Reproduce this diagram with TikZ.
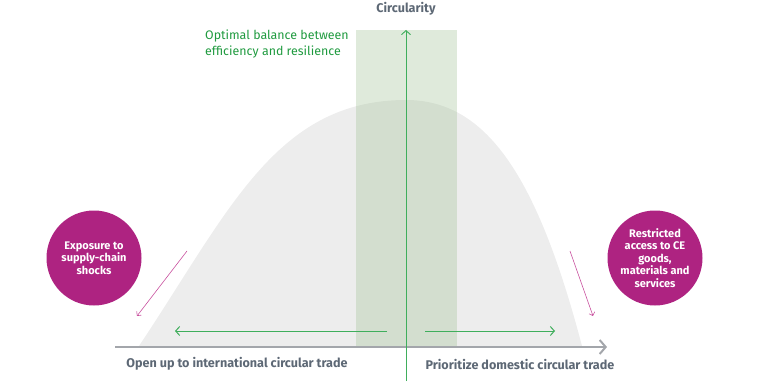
\documentclass[tikz,border=0pt]{standalone}
\usepackage{fontspec}
\setmainfont{Fira Sans}
\usetikzlibrary{arrows.meta}

\definecolor{bellgray}{HTML}{EDEDED}
\definecolor{bandgreen}{RGB}{159,192,147}
\definecolor{linegreen}{HTML}{3FAE5C}
\definecolor{textgreen}{HTML}{1F9A3F}
\definecolor{axisgray}{HTML}{A3A6AB}
\definecolor{labelgray}{HTML}{5D6875}
\definecolor{riskpink}{HTML}{AE2381}
\definecolor{arrowpink}{HTML}{C8509E}

\tikzset{
  risk/.style={circle, fill=riskpink, text=white, minimum size=95pt, inner sep=0pt,
    align=center, font=\fontsize{11}{12.5}\selectfont\bfseries},
  axislabel/.style={text=labelgray, font=\fontsize{12.6}{14}\selectfont\bfseries},
  hint/.style={->, arrowpink, line width=0.6pt},
  trend/.style={->, linegreen, line width=1pt}
}

\begin{document}
\begin{tikzpicture}[x=1pt,y=1pt,>={Straight Barb[length=4pt,width=9pt]}]

  \useasboundingbox (0,0) rectangle (764,381);

  % -------------------------
  % Bell curve and optimal band
  % -------------------------
  \fill[bellgray] (139,35) .. controls (229,170) and (276,281) .. (406,281)
    .. controls (486,281) and (537,206) .. (582,35) -- cycle;

  \fill[bandgreen, opacity=0.33] (356,34) rectangle (457,351);

  % -------------------------
  % Axes
  % -------------------------
  \coordinate (hstart) at (115,34);
  \coordinate (hend) at (607,34);
  \coordinate (vstart) at (406,0);
  \coordinate (vend) at (406,351);

  \draw[->, axisgray, line width=2pt, >={Straight Barb[length=6pt,width=14pt]}]
    (hstart) -- (hend);
  \draw[->, linegreen, line width=0.9pt] (vstart) -- (vend);

  \node[axislabel] (ylab) at (406,372) {Circularity};
  \node[axislabel] (leftlab) at (237,17) {Open up to international circular trade};
  \node[axislabel, anchor=west] (rightlab) at (422,17) {Prioritize domestic circular trade};

  \node[anchor=north west, align=left, text=textgreen, inner sep=0pt,
    font=\fontsize{12.4}{16}\selectfont] (optlab) at (205,351)
    {Optimal balance between\\efficiency and resilience};

  % -------------------------
  % Green trend arrows
  % -------------------------
  \coordinate (lgfrom) at (387,50);
  \coordinate (lgto) at (175,50);
  \coordinate (rgfrom) at (425,50);
  \coordinate (rgto) at (555,50);

  \draw[trend] (lgfrom) -- (lgto);
  \draw[trend] (rgfrom) -- (rgto);

  % -------------------------
  % Risks at both ends
  % -------------------------
  \node[risk] (shocks) at (94,123) {Exposure to\\supply-chain\\shocks};
  \node[risk] (access) at (655,123) {Restricted\\access to CE\\goods,\\materials and\\services};

  \coordinate (lpfrom) at (187,130);
  \coordinate (lpto) at (137,65);
  \coordinate (rpfrom) at (570,130);
  \coordinate (rpto) at (593,65);

  \draw[hint, >={Straight Barb[length=3pt,width=6pt]}] (lpfrom) -- (lpto);
  \draw[hint, >={Straight Barb[length=3pt,width=6pt]}] (rpfrom) -- (rpto);

\end{tikzpicture}
\end{document}
